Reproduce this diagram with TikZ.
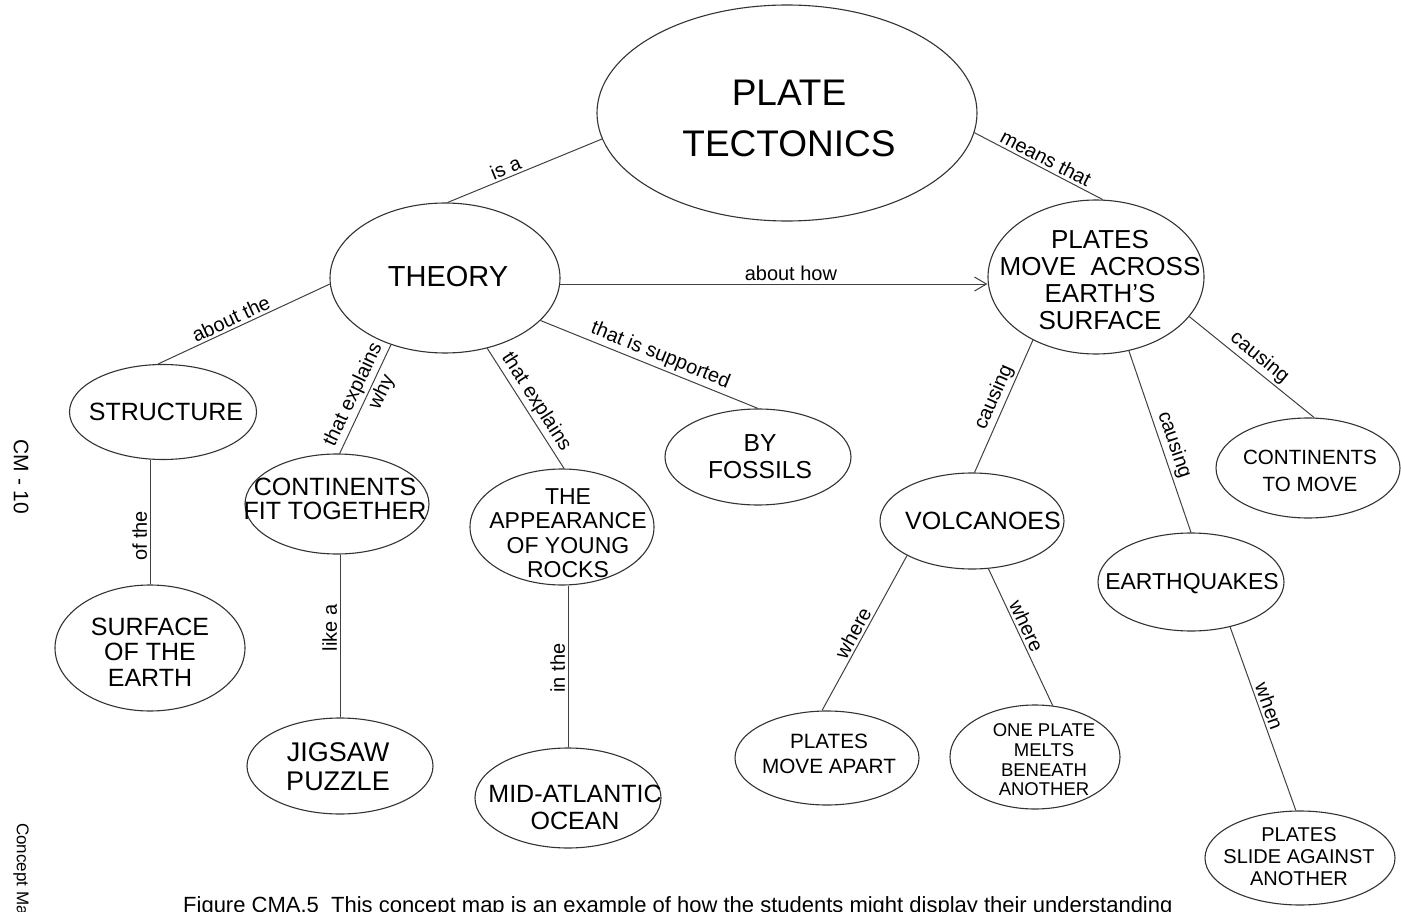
\documentclass[tikz,border=0pt]{standalone}
\usepackage{fontspec}
\setmainfont{Liberation Sans}
\usetikzlibrary{shapes.geometric,arrows.meta}

\begin{document}
\begin{tikzpicture}[x=1pt, y=-1pt,
    bubble/.style={draw=black!80, line width=1.1pt, ellipse, inner sep=0pt},
    txt/.style 2 args={align=center, inner sep=0pt, font=\fontsize{#1}{#2}\selectfont},
    link/.style={draw=black!75, line width=1pt},
    lbl/.style={sloped, above, inner sep=2.5pt, font=\fontsize{20}{22}\selectfont}]
    \useasboundingbox (0,0) rectangle (1401,912);

    % concepts
    \node[bubble, minimum width=380, minimum height=216] (pt) at (787,113) {};
    \node[txt={37}{51}] (pttext) at (789,118) {PLATE\\TECTONICS};
    \node[bubble, minimum width=230, minimum height=150] (theory) at (445,278) {};
    \node[txt={29}{32}] (theorytext) at (448,277) {THEORY};
    \node[bubble, minimum width=216, minimum height=154] (plates) at (1096,277) {};
    \node[txt={26}{27}] (platestext) at (1100,280) {PLATES\\MOVE\ \ ACROSS\\EARTH'S\\SURFACE};

    \node[bubble, minimum width=187, minimum height=95] (structure) at (163,412) {};
    \node[txt={25}{26}] (structuretext) at (166,412) {STRUCTURE};
    \node[bubble, minimum width=190, minimum height=126] (surface) at (150,648) {};
    \node[txt={25}{25.5}] (surfacetext) at (150,652) {SURFACE\\OF THE\\EARTH};

    \node[bubble, minimum width=184, minimum height=100] (contfit) at (337,504) {};
    \node[txt={25}{24}] (contfittext) at (335,499) {CONTINENTS\\FIT TOGETHER};
    \node[bubble, minimum width=186, minimum height=96] (jigsaw) at (340,766) {};
    \node[txt={27}{29}] (jigsawtext) at (338,767) {JIGSAW\\PUZZLE};

    \node[bubble, minimum width=184, minimum height=116] (appear) at (562,527) {};
    \node[txt={23}{24.5}] (appeartext) at (568,533) {THE\\APPEARANCE\\OF YOUNG\\ROCKS};
    \node[bubble, minimum width=186, minimum height=100] (mid) at (568,798) {};
    \node[txt={25}{27}] (midtext) at (575,807) {MID-ATLANTIC\\OCEAN};

    \node[bubble, minimum width=186, minimum height=96] (fossils) at (758,457) {};
    \node[txt={24.6}{27}] (fossilstext) at (760,457) {BY\\FOSSILS};

    \node[bubble, minimum width=184, minimum height=96] (volc) at (972,521) {};
    \node[txt={25}{26}] (volctext) at (983,521) {VOLCANOES};
    \node[bubble, minimum width=184, minimum height=94] (apart) at (827,758) {};
    \node[txt={20.7}{25}] (aparttext) at (829,754) {PLATES\\MOVE APART};
    \node[bubble, minimum width=170, minimum height=104] (melts) at (1035,757) {};
    \node[txt={18.5}{19.7}] (meltstext) at (1044,760) {ONE PLATE\\MELTS\\BENEATH\\ANOTHER};

    \node[bubble, minimum width=186, minimum height=98] (quakes) at (1191,582) {};
    \node[txt={23}{25}] (quakestext) at (1192,584) {EARTHQUAKES};
    \node[bubble, minimum width=190, minimum height=94] (slide) at (1300,858) {};
    \node[txt={20}{22}] (slidetext) at (1299,857) {PLATES\\SLIDE AGAINST\\ANOTHER};
    \node[bubble, minimum width=184, minimum height=100] (ctm) at (1308,468) {};
    \node[txt={20.6}{27}] (ctmtext) at (1310,471) {CONTINENTS\\TO MOVE};

    % links
    \draw[link] (pt.188) -- node[lbl, pos=0.6] {is a} (theory.88);
    \draw[link] (pt.354) -- node[lbl, pos=0.52] {means that} (plates.85);
    \draw[link, -{Straight Barb[length=12pt, width=14pt]}] (theory.357) -- node[lbl, pos=0.54] {about how} (theory.357 -| plates.west);
    \draw[link] (theory.183) -- node[lbl, pos=0.55] {about the} (structure.96);
    \draw[link] (theory.231) -- node[lbl, pos=0.51] {that explains} node[lbl, below, pos=0.39] {why} (contfit.87);
    \draw[link] (theory.301) -- node[lbl, pos=0.5] {that explains} (appear.88);
    \draw[link] (theory.336) -- node[lbl, pos=0.53] {that is supported} (fossils.90);
    \draw[link] (surface.north) -- node[lbl, pos=0.39] {of the} (surface.north |- structure.south);
    \draw[link] (jigsaw.north) -- node[lbl, pos=0.55] {like a} (jigsaw.north |- contfit.south);
    \draw[link] (mid.north) -- node[lbl, pos=0.49] {in the} (mid.north |- appear.south);
    \draw[link] (plates.225) -- node[lbl, pos=0.47] {causing} (volc.87);
    \draw[link] (plates.294) -- node[lbl, pos=0.54] {causing} (quakes.90);
    \draw[link] (plates.337) -- node[lbl, pos=0.5] {causing} (ctm.83);
    \draw[link] (volc.208) -- node[lbl, pos=0.53] {where} (apart.96);
    \draw[link] (volc.289) -- node[lbl, pos=0.45] {where} (melts.71);
    \draw[link] (quakes.311) -- node[lbl, pos=0.45] {when} (slide.95);

    % page margin and caption
    \node[rotate=-90, inner sep=0pt, font=\fontsize{21}{21}\selectfont] (pageno) at (21,477) {CM - 10};
    \node[rotate=-90, anchor=west, inner sep=0pt, font=\fontsize{17}{17}\selectfont] (pagehead) at (21,823) {Concept Ma};
    \node[anchor=base west, inner sep=0pt, font=\fontsize{22}{22}\selectfont] (caption) at (183,912) {Figure CMA.5\ \ This concept map is an example of how the students might display their understanding};
\end{tikzpicture}
\end{document}
